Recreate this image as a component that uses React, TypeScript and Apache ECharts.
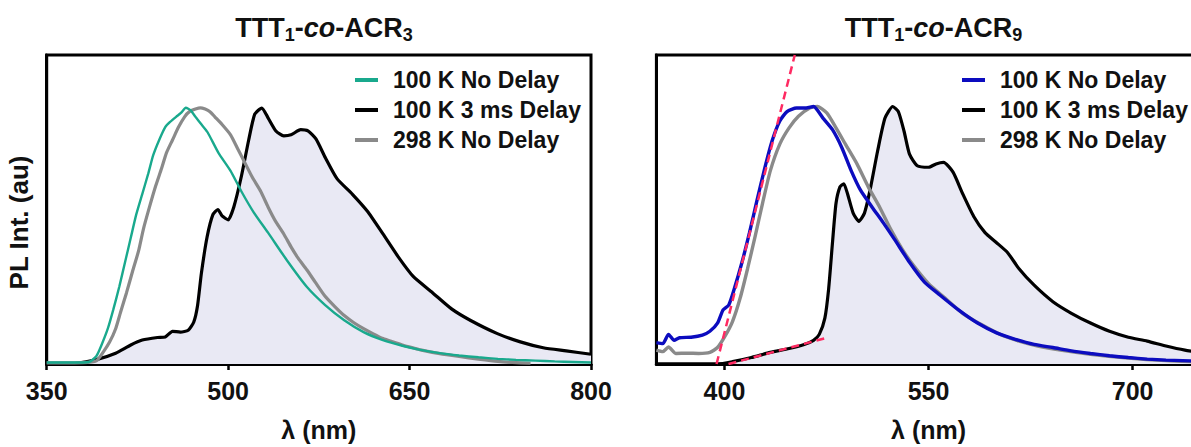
import React, { useEffect, useRef } from "react";
import * as echarts from "echarts";

// ---------- Left panel: TTT1-co-ACR3 ----------
const leftTealX = [350, 370, 385, 391, 395, 400.5, 405, 410, 415, 419.5, 424, 429, 434, 438, 443, 448, 452, 457, 461, 465, 469, 473, 478, 483, 492, 502, 511, 521, 533, 549, 565, 580, 596, 612, 628, 644, 659, 675, 691, 707, 723, 738, 754, 770, 785, 800];
const leftTealY = [0.006, 0.006, 0.008, 0.03, 0.07, 0.137, 0.21, 0.30, 0.40, 0.49, 0.58, 0.66, 0.74, 0.81, 0.87, 0.92, 0.94, 0.96, 0.975, 0.995, 0.985, 0.96, 0.93, 0.90, 0.82, 0.75, 0.67, 0.59, 0.51, 0.40, 0.30, 0.23, 0.17, 0.124, 0.093, 0.071, 0.055, 0.042, 0.033, 0.026, 0.02, 0.016, 0.013, 0.01, 0.008, 0.006];

const leftGrayX = [350, 380, 391, 397, 402, 407, 411, 416, 421, 426, 430, 435, 440, 445, 449, 454, 459, 464, 468, 473, 477, 481, 485, 489, 495, 502, 508, 514, 520, 527, 533, 539, 546, 552, 558, 565, 572, 580, 588, 596, 604, 612, 620, 628, 636, 644, 652, 659, 675, 691, 707, 723, 735, 750];
const leftGrayY = [0.004, 0.005, 0.012, 0.048, 0.085, 0.137, 0.2, 0.277, 0.36, 0.44, 0.525, 0.61, 0.69, 0.76, 0.82, 0.87, 0.92, 0.96, 0.98, 0.99, 0.995, 0.99, 0.98, 0.96, 0.93, 0.89, 0.835, 0.78, 0.725, 0.67, 0.61, 0.556, 0.505, 0.455, 0.41, 0.366, 0.318, 0.264, 0.224, 0.188, 0.16, 0.137, 0.117, 0.099, 0.086, 0.074, 0.064, 0.055, 0.04, 0.029, 0.019, 0.01, 0.006, 0.003];

const leftBlackX = [350, 375, 391, 407, 419.5, 429, 441.6, 448, 454, 460.5, 467, 471.6, 474.7, 477.9, 482.6, 487.4, 491.5, 495, 500, 504.7, 511, 517, 522, 527.8, 533, 539.5, 546, 552, 560, 566, 572.6, 580.5, 590, 602.6, 615, 628, 640.5, 653, 669, 685, 700.5, 722.6, 741.6, 760.5, 779.5, 800];
const leftBlackY = [0.0, 0.003, 0.017, 0.042, 0.074, 0.093, 0.103, 0.105, 0.127, 0.124, 0.131, 0.163, 0.226, 0.353, 0.493, 0.58, 0.60, 0.575, 0.56, 0.61, 0.73, 0.87, 0.97, 0.994, 0.956, 0.905, 0.886, 0.89, 0.91, 0.905, 0.874, 0.80, 0.72, 0.66, 0.594, 0.505, 0.417, 0.34, 0.277, 0.213, 0.169, 0.118, 0.086, 0.063, 0.051, 0.038];

// ---------- Right panel: TTT1-co-ACR9 ----------
const rightBlueX = [350, 354.7, 358.9, 363, 367, 375.5, 383.8, 389.3, 394.9, 399, 403.2, 407.3, 412.9, 418.4, 424, 429.5, 435, 440.6, 446, 453, 460, 465.5, 472.4, 479.4, 486.3, 493.2, 500, 508.4, 516.8, 525, 536, 547, 558.3, 572, 586, 600, 613.7, 627.6, 641.4, 655, 669, 683, 696.8, 710.7, 724.5, 750];
const rightBlueY = [0.083, 0.079, 0.115, 0.092, 0.102, 0.104, 0.112, 0.127, 0.159, 0.21, 0.229, 0.293, 0.395, 0.51, 0.637, 0.758, 0.866, 0.943, 0.98, 0.994, 0.994, 1.0, 0.955, 0.91, 0.84, 0.75, 0.675, 0.61, 0.548, 0.484, 0.395, 0.318, 0.268, 0.21, 0.159, 0.121, 0.096, 0.076, 0.064, 0.051, 0.041, 0.032, 0.025, 0.019, 0.015, 0.011];

const rightGrayX = [350, 354.7, 358.9, 364.4, 372.7, 381, 389.3, 394.9, 400.4, 406, 411.5, 417, 422.6, 428, 433.7, 440.6, 447.5, 454.4, 462.7, 468.3, 475.2, 482, 489, 497.4, 505.7, 514, 522.3, 530.6, 539, 550, 561, 575, 588.8, 602.6, 616.5, 630.3, 647, 669, 696.8, 724.5, 750];
const rightGrayY = [0.054, 0.048, 0.066, 0.041, 0.042, 0.041, 0.045, 0.064, 0.108, 0.166, 0.255, 0.37, 0.497, 0.624, 0.75, 0.853, 0.917, 0.962, 0.994, 1.0, 0.975, 0.917, 0.853, 0.777, 0.688, 0.61, 0.522, 0.446, 0.382, 0.312, 0.261, 0.197, 0.153, 0.115, 0.089, 0.07, 0.054, 0.038, 0.023, 0.013, 0.008];

const rightBlackX = [350, 395, 406, 419.8, 433.7, 447.5, 458.6, 465.5, 469.7, 473.8, 476.6, 479.4, 482, 484.9, 487.7, 490.4, 494.6, 498.8, 502.9, 507, 512.6, 518, 523.7, 527.8, 532, 536, 541.7, 550, 555.5, 561, 568, 575, 583.2, 591.5, 600, 608, 616.5, 627.6, 641.4, 655, 669, 683, 696.8, 710.7, 724.5, 738.4, 750];
const rightBlackY = [0.0, 0.0, 0.009, 0.025, 0.045, 0.06, 0.076, 0.092, 0.115, 0.178, 0.293, 0.471, 0.624, 0.688, 0.70, 0.662, 0.586, 0.554, 0.586, 0.675, 0.828, 0.955, 1.0, 0.98, 0.904, 0.815, 0.77, 0.764, 0.777, 0.783, 0.745, 0.662, 0.573, 0.51, 0.471, 0.433, 0.37, 0.306, 0.242, 0.197, 0.159, 0.127, 0.104, 0.089, 0.07, 0.054, 0.045];

// Tangent (onset) guide lines in the right panel
const tangent1X = [394.2, 451.7];
const tangent1Y = [0, 1.2];
const tangent2X = [403, 474];
const tangent2Y = [0, 0.1];

const seriesNames = ["100 K No Delay", "100 K 3 ms Delay", "298 K No Delay"];
const rightTicks = [400, 550, 700];
const titles = ["{n|TTT}{s|1}{n|-}{i|co}{n|-ACR}{s|3}", "{n|TTT}{s|1}{n|-}{i|co}{n|-ACR}{s|9}"];

const zip = (xs: number[], ys: number[]) => xs.map((x, i) => [x, ys[i]]);

const FONT = "Liberation Sans, Arial, sans-serif";
const TEAL = "#19a98d";
const BLUE = "#0c0cbf";
const GRAY = "#8a8a8a";
const BLACK = "#000000";
const FILL = "#e9e9f4";
const RED = "#ff2a62";

export default function App() {
  const ref = useRef<HTMLDivElement>(null);
  useEffect(() => {
    if (!ref.current) return;
    const chart = echarts.init(ref.current, null, { renderer: "svg" });
    const titleRich = {
      n: { fontSize: 27, fontWeight: "bold", fontFamily: FONT, color: "#111", lineHeight: 32 },
      i: { fontSize: 27, fontWeight: "bold", fontStyle: "italic", fontFamily: FONT, color: "#111", lineHeight: 32 },
      s: { fontSize: 18, fontWeight: "bold", fontFamily: FONT, color: "#111", lineHeight: 18, padding: [14, 0, 0, 0], verticalAlign: "bottom" },
    };
    const gridL = { left: 46.7, top: 55, width: 544.3, height: 315 };
    const gridR = { left: 656.4, top: 55, width: 544.3, height: 315 };
    const axisCommon = (min: number, max: number) => ({
      type: "value",
      min,
      max,
      axisLine: { show: true, onZero: false, lineStyle: { color: "#000", width: 3 } },
      axisTick: { show: true, length: 6, lineStyle: { color: "#000", width: 2.5 } },
      axisLabel: { fontSize: 25, fontWeight: "bold", fontFamily: FONT, color: "#111", margin: 14 },
      splitLine: { show: false },
      name: "λ (nm)",
      nameLocation: "middle",
      nameGap: 53,
      nameTextStyle: { fontSize: 25, fontWeight: "bold", fontFamily: FONT, color: "#111" },
    });
    const legendCommon = (left: number, first: string) => ({
      left,
      top: 63.5,
      orient: "vertical",
      itemGap: 7,
      itemWidth: 23,
      itemHeight: 4,
      icon: "rect",
      selectedMode: false,
      textStyle: { fontSize: 23, fontWeight: "bold", fontFamily: FONT, color: "#111", padding: [0, 0, 0, 10], lineHeight: 23 },
      data: [
        { name: seriesNames[0], itemStyle: { color: first } },
        { name: seriesNames[1], itemStyle: { color: BLACK } },
        { name: seriesNames[2], itemStyle: { color: GRAY } },
      ],
    });
    chart.setOption({
      animation: false,
      title: [
        { text: titles[0], left: 319, top: 7, textAlign: "center", textStyle: { rich: titleRich } },
        { text: titles[1], left: 928.5, top: 7, textAlign: "center", textStyle: { rich: titleRich } },
      ],
      legend: [legendCommon(350, TEAL), legendCommon(957, BLUE)],
      grid: [
        { ...gridL, show: true, borderColor: "#000", borderWidth: 3, backgroundColor: "transparent" },
        { ...gridR, show: true, borderColor: "#000", borderWidth: 3, backgroundColor: "transparent" },
      ],
      xAxis: [
        { ...axisCommon(350, 800), gridIndex: 0, interval: 150 },
        {
          ...axisCommon(350, 750),
          gridIndex: 1,
          axisTick: { show: true, length: 6, lineStyle: { color: "#000", width: 2.5 }, customValues: rightTicks },
          axisLabel: { fontSize: 25, fontWeight: "bold", fontFamily: FONT, color: "#111", margin: 14, customValues: rightTicks },
        },
      ],
      yAxis: [
        {
          type: "value", gridIndex: 0, min: 0, max: 1.2,
          axisLine: { show: true, lineStyle: { color: "#000", width: 3 } },
          axisTick: { show: false }, axisLabel: { show: false }, splitLine: { show: false },
          name: "PL Int. (au)", nameLocation: "middle", nameGap: 15, nameRotate: 90,
          nameTextStyle: { fontSize: 26, fontWeight: "bold", fontFamily: FONT, color: "#111", padding: [0, 26, 0, 0] },
        },
        {
          type: "value", gridIndex: 1, min: 0, max: 1.2,
          axisLine: { show: true, lineStyle: { color: "#000", width: 3 } },
          axisTick: { show: false }, axisLabel: { show: false }, splitLine: { show: false },
        },
      ],
      series: [
        {
          name: seriesNames[1], type: "line", xAxisIndex: 0, yAxisIndex: 0, data: zip(leftBlackX, leftBlackY),
          symbol: "none", smooth: 0.2, lineStyle: { color: BLACK, width: 3.2 }, itemStyle: { color: BLACK },
          areaStyle: { color: FILL, opacity: 1 }, z: 2,
        },
        {
          name: seriesNames[2], type: "line", xAxisIndex: 0, yAxisIndex: 0, data: zip(leftGrayX, leftGrayY),
          symbol: "none", smooth: 0.2, lineStyle: { color: GRAY, width: 3.2 }, itemStyle: { color: GRAY }, z: 3,
        },
        {
          name: seriesNames[0], type: "line", xAxisIndex: 0, yAxisIndex: 0, data: zip(leftTealX, leftTealY),
          symbol: "none", smooth: 0.2, lineStyle: { color: TEAL, width: 2.4 }, itemStyle: { color: TEAL }, z: 4,
        },
        {
          name: seriesNames[1], type: "line", xAxisIndex: 1, yAxisIndex: 1, data: zip(rightBlackX, rightBlackY),
          symbol: "none", smooth: 0.2, lineStyle: { color: BLACK, width: 3.2 }, itemStyle: { color: BLACK },
          areaStyle: { color: FILL, opacity: 1 }, z: 2,
        },
        {
          name: seriesNames[2], type: "line", xAxisIndex: 1, yAxisIndex: 1, data: zip(rightGrayX, rightGrayY),
          symbol: "none", smooth: 0.2, lineStyle: { color: GRAY, width: 3.4 }, itemStyle: { color: GRAY }, z: 3,
        },
        {
          name: seriesNames[0], type: "line", xAxisIndex: 1, yAxisIndex: 1, data: zip(rightBlueX, rightBlueY),
          symbol: "none", smooth: 0.2, lineStyle: { color: BLUE, width: 3.4 }, itemStyle: { color: BLUE }, z: 4,
        },
        {
          name: "onset1", type: "line", xAxisIndex: 1, yAxisIndex: 1, data: zip(tangent1X, tangent1Y),
          symbol: "none", lineStyle: { color: RED, width: 2.5, type: [8, 5] }, z: 5, silent: true,
        },
        {
          name: "onset2", type: "line", xAxisIndex: 1, yAxisIndex: 1, data: zip(tangent2X, tangent2Y),
          symbol: "none", lineStyle: { color: RED, width: 2.5, type: [8, 5] }, z: 5, silent: true,
        },
      ],
    });
    return () => chart.dispose();
  }, []);
  return (
    <div style={{ position: "fixed", left: 0, top: 0, width: 1191, height: 447, overflow: "hidden", background: "#fff" }}>
      <div ref={ref} style={{ width: 1210, height: 447 }} />
    </div>
  );
}
